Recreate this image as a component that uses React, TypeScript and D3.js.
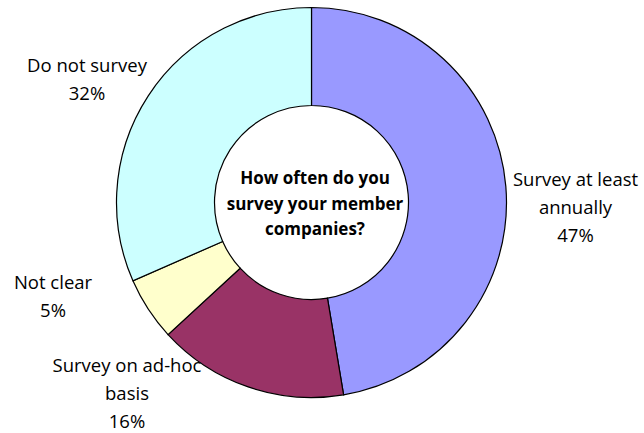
import React from "react";
import * as d3 from "d3";

const categories = ["Survey at least annually", "Survey on ad-hoc basis", "Not clear", "Do not survey"];
const counts = [9, 3, 1, 6];
const labelLines = [
  ["Survey at least", "annually"],
  ["Survey on ad-hoc", "basis"],
  ["Not clear"],
  ["Do not survey"],
];
const colors = ["#9999FF", "#993366", "#FFFFCC", "#CCFFFF"];
const centerTitle = ["How often do you", "survey your member", "companies?"];

const W = 644;
const H = 433;
const CX = 311.5;
const CY = 202.5;
const R_OUT = 195;
const R_IN = 97;
const labelPos = [
  { x: 575.5, y: 186 },
  { x: 127, y: 372 },
  { x: 53, y: 289 },
  { x: 87, y: 72 },
];
const FONT = "'Open Sans', sans-serif";

export default function App() {
  const total = d3.sum(counts);
  const pie = d3.pie<number>().sort(null).value((d) => d)(counts);
  const arc = d3.arc<d3.PieArcDatum<number>>().innerRadius(R_IN).outerRadius(R_OUT);
  return (
    <svg width={W} height={H} style={{ position: "absolute", left: 0, top: 0 }} xmlns="http://www.w3.org/2000/svg">
      <rect width={W} height={H} fill="#fff" />
      <g transform={`translate(${CX},${CY})`}>
        {pie.map((p, i) => (
          <path key={categories[i]} d={arc(p) || ""} fill={colors[i]} stroke="#000" strokeWidth={1.2} />
        ))}
      </g>
      {labelLines.map((lines, i) => {
        const all = [...lines, `${Math.round((counts[i] / total) * 100)}%`];
        return (
          <text key={i} fontFamily={FONT} fontSize={18.5} fill="#000" textAnchor="middle">
            {all.map((l, j) => (
              <tspan key={j} x={labelPos[i].x} y={labelPos[i].y + j * 28}>{l}</tspan>
            ))}
          </text>
        );
      })}
      <text fontFamily={FONT} fontSize={17} fontWeight="bold" fill="#000" textAnchor="middle">
        {centerTitle.map((l, j) => (
          <tspan key={j} x={315} y={184 + j * 25.5}>{l}</tspan>
        ))}
      </text>
    </svg>
  );
}
